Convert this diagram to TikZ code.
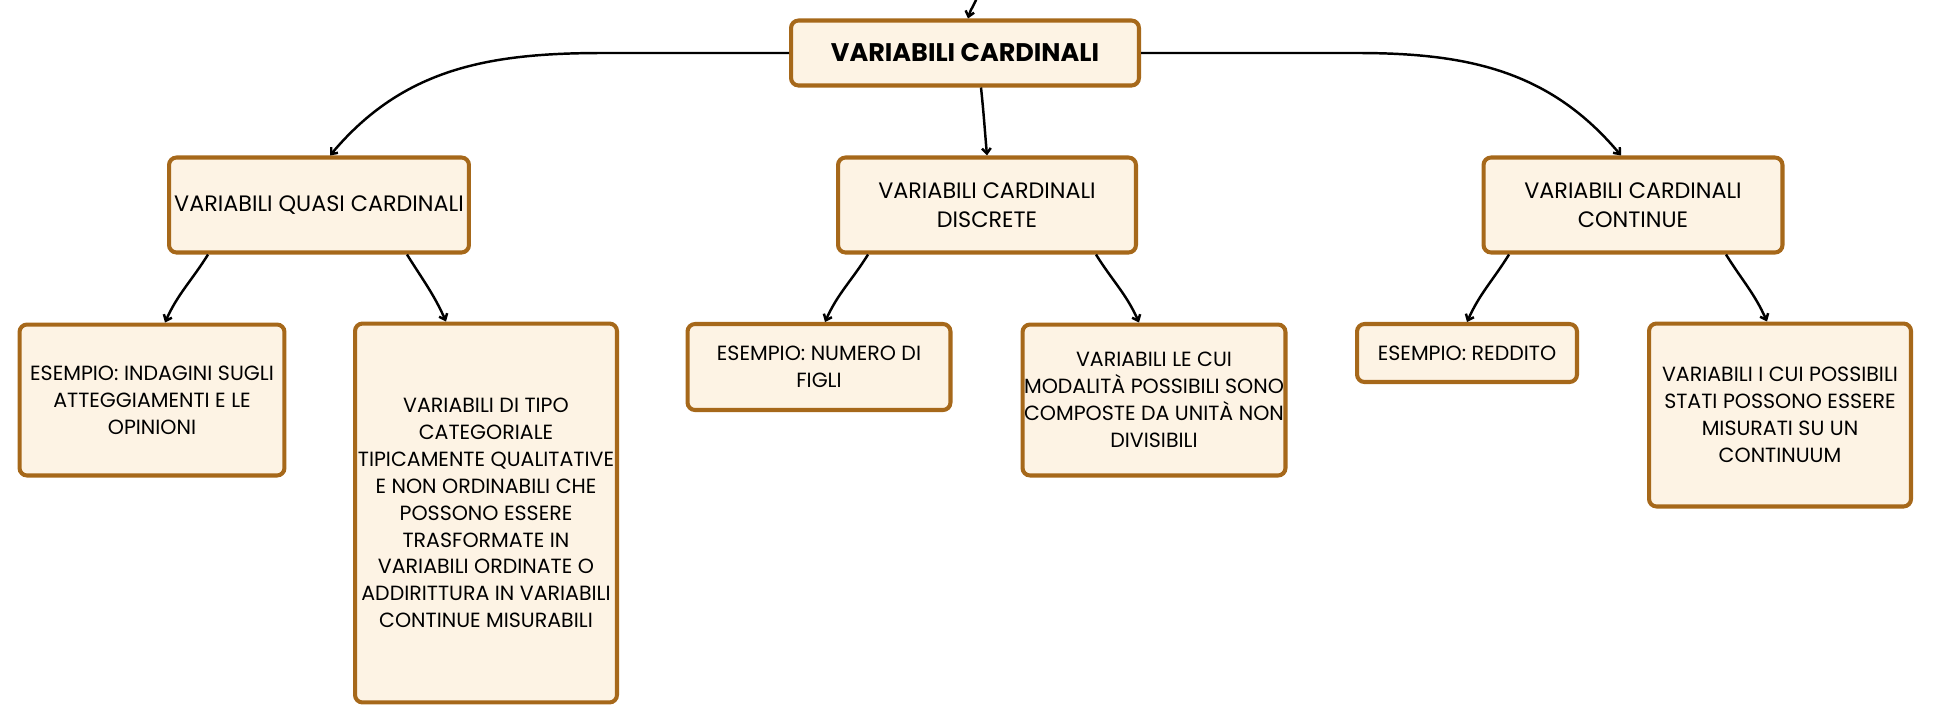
\documentclass[tikz,border=0pt]{standalone}
\usepackage{fontspec}
\setmainfont{Poppins}
\usetikzlibrary{arrows.meta}
\definecolor{bordo}{RGB}{166,104,26}
\definecolor{crema}{RGB}{253,243,228}

\begin{document}
\begin{tikzpicture}[x=0.02cm, y=-0.02cm,
		box/.style={draw=bordo, line width=2.3pt, fill=crema, rounded corners=0.15cm,
			align=center, inner sep=0pt, font=\fontsize{11.7}{15.3}\selectfont},
		livello/.style={box, font=\fontsize{12.7}{16.8}\selectfont},
		radice/.style={box, font=\fontsize{14.5}{16}\selectfont\bfseries},
		conn/.style={draw, line width=1.4pt, -{Straight Barb[length=3pt,width=5pt]}}]
		
		% 1. Area del disegno (pixel dell'originale)
		\useasboundingbox (0,0) rectangle (1933,724);
		
		% 2. Nodo principale
		\node[radice, minimum width=6.96cm, minimum height=1.3cm] (main) at (965,53) {VARIABILI CARDINALI};
		\coordinate (sopra) at (978,-6);
		
		% 3. Secondo livello
		\node[livello, minimum width=6cm, minimum height=1.9cm] (quasi) at (319,205) {VARIABILI QUASI CARDINALI};
		\node[livello, minimum width=5.96cm, minimum height=1.9cm] (discr) at (987,205) {VARIABILI CARDINALI\\DISCRETE};
		\node[livello, minimum width=5.98cm, minimum height=1.9cm] (cont) at (1633,205) {VARIABILI CARDINALI\\CONTINUE};
		
		% 4. Terzo livello
		\node[box, minimum width=5.3cm, minimum height=3.02cm] (indag) at (152,400) {ESEMPIO: INDAGINI SUGLI\\ATTEGGIAMENTI E LE\\OPINIONI};
		\node[box, minimum width=5.24cm, minimum height=7.58cm] (categ) at (486,513) {VARIABILI DI TIPO\\CATEGORIALE\\TIPICAMENTE QUALITATIVE\\E NON ORDINABILI CHE\\POSSONO ESSERE\\TRASFORMATE IN\\VARIABILI ORDINATE O\\ADDIRITTURA IN VARIABILI\\CONTINUE MISURABILI};
		\node[box, minimum width=5.26cm, minimum height=1.72cm] (numero) at (819,367) {ESEMPIO: NUMERO DI\\FIGLI};
		\node[box, minimum width=5.26cm, minimum height=3.02cm] (modal) at (1154,400) {VARIABILI LE CUI\\MODALITÀ POSSIBILI SONO\\COMPOSTE DA UNITÀ NON\\DIVISIBILI};
		\node[box, minimum width=4.4cm, minimum height=1.16cm] (reddito) at (1467,353) {ESEMPIO: REDDITO};
		\node[box, minimum width=5.24cm, minimum height=3.66cm] (continuum) at (1780,415) {VARIABILI I CUI POSSIBILI\\STATI POSSONO ESSERE\\MISURATI SU UN\\CONTINUUM};
		
		% 5. Collegamenti dal nodo principale
		\draw[conn] (sopra) to[out=-105,in=75] ([xshift=0.06cm]main.north);
		\draw[conn] (main.west) -- ++(-186,0) to[out=180,in=50] ([xshift=0.22cm]quasi.north);
		\draw[conn] ([xshift=0.32cm]main.south) to[out=-84,in=95] (discr.north);
		\draw[conn] (main.east) -- ++(216,0) to[out=0,in=130] ([xshift=-0.24cm]cont.north);
		
		% 6. Collegamenti verso il terzo livello
		\draw[conn] ([xshift=-2.22cm]quasi.south) to[out=-122,in=66] ([xshift=0.26cm]indag.north);
		\draw[conn] ([xshift=1.76cm]quasi.south) to[out=-58,in=114] ([xshift=-0.8cm]categ.north);
		\draw[conn] ([xshift=-2.38cm]discr.south) to[out=-122,in=66] ([xshift=0.12cm]numero.north);
		\draw[conn] ([xshift=2.18cm]discr.south) to[out=-58,in=114] ([xshift=-0.3cm]modal.north);
		\draw[conn] ([xshift=-2.48cm]cont.south) to[out=-122,in=66] (reddito.north);
		\draw[conn] ([xshift=1.86cm]cont.south) to[out=-58,in=114] ([xshift=-0.26cm]continuum.north);
		
	\end{tikzpicture}
\end{document}
